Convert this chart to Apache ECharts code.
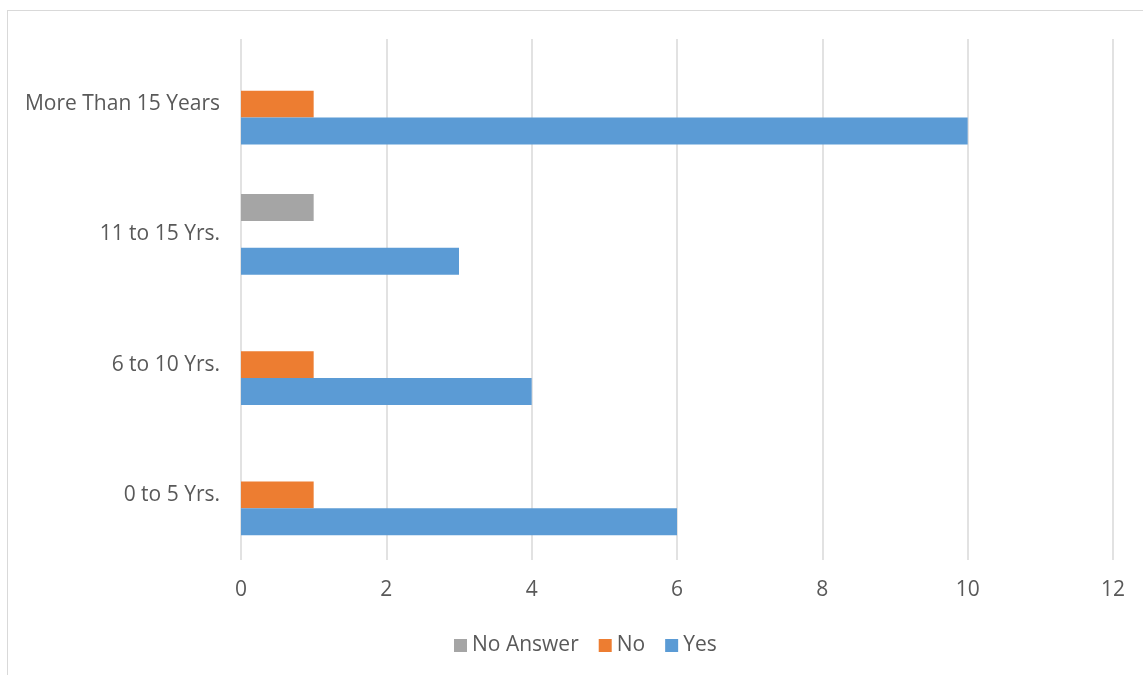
<!DOCTYPE html>
<html>
<head>
<meta charset="utf-8">
<script src="https://cdn.jsdelivr.net/npm/echarts@6/dist/echarts.min.js"></script>
<style>
html,body{margin:0;padding:0;background:#fff;}
#frame{position:absolute;left:7px;top:10px;width:1150px;height:670px;border:1.5px solid #d9d9d9;box-sizing:border-box;}
#chart{position:absolute;left:0;top:0;width:1143px;height:675px;}
</style>
</head>
<body>
<div id="frame"></div>
<div id="chart"></div>
<script>
const categories = ['0 to 5 Yrs.', '6 to 10 Yrs.', '11 to 15 Yrs.', 'More Than 15 Years'];
const noAnswer = [null, null, 1, null];
const no = [1, 1, null, 1];
const yes = [6, 4, 3, 10];
const xTicks = {min: 0, max: 12, interval: 2};

const chart = echarts.init(document.getElementById('chart'), null, {renderer: 'canvas'});
const font = 'Open Sans';
chart.setOption({
  animation: false,
  grid: {left: 241, right: 30, top: 39, bottom: 115, containLabel: false},
  legend: {
    data: ['No Answer', 'No', 'Yes'],
    top: 630,
    left: 449,
    itemWidth: 13, itemHeight: 13, itemGap: 20,
    icon: 'rect',
    textStyle: {color: '#595959', fontSize: 21, fontFamily: font, padding: [0, 0, 0, 0]}
  },
  xAxis: {
    type: 'value', min: xTicks.min, max: xTicks.max, interval: xTicks.interval,
    axisLine: {show: false}, axisTick: {show: false},
    splitLine: {lineStyle: {color: '#d9d9d9', width: 1.5}},
    axisLabel: {color: '#595959', fontSize: 21, fontFamily: font, margin: 20}
  },
  yAxis: {
    type: 'category', data: categories,
    axisLine: {show: false}, axisTick: {show: false},
    splitLine: {show: false},
    axisLabel: {color: '#595959', fontSize: 21, fontFamily: font, margin: 21}
  },
  series: [
    {name: 'No Answer', type: 'bar', data: noAnswer, itemStyle: {color: '#A5A5A5'}, barGap: '0%', barCategoryGap: '38%'},
    {name: 'No', type: 'bar', data: no, itemStyle: {color: '#ED7D31'}, barGap: '0%', barCategoryGap: '38%'},
    {name: 'Yes', type: 'bar', data: yes, itemStyle: {color: '#5B9BD5'}, barGap: '0%', barCategoryGap: '38%'}
  ]
});
</script>
</body>
</html>
